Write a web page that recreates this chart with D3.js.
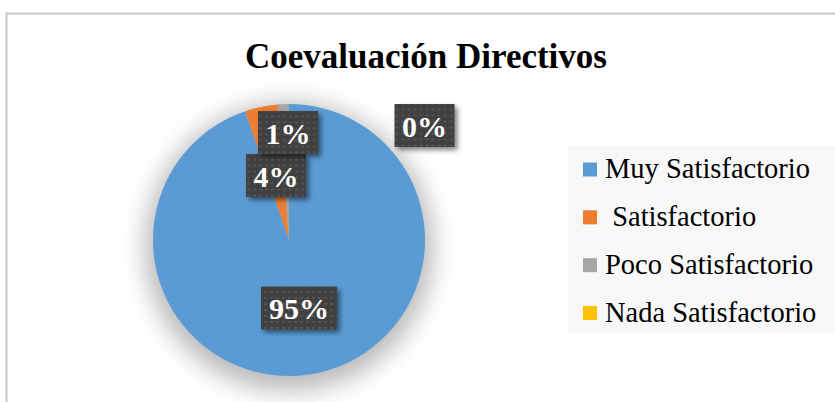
<!DOCTYPE html>
<html><head><meta charset="utf-8">
<script src="https://cdn.jsdelivr.net/npm/d3@7"></script>
<style>body{margin:0;background:#fff}svg{display:block}</style>
</head><body>
<script>
const title = "Coevaluación Directivos";
const categories = ["Muy Satisfactorio", " Satisfactorio", "Poco Satisfactorio", "Nada Satisfactorio"];
const values = [94.8, 3.9, 1.3, 0];
const colors = ["#5B9BD5", "#ED7D31", "#A5A5A5", "#FFC000"];
// label box centers (placement of data labels)
const labelPos = [[299, 308], [276, 175.5], [288, 132.5], [424.5, 125.5]];

const W = 835, H = 402;
const FONT = "'Liberation Serif', 'Times New Roman', Times, serif";
const svg = d3.select("body").append("svg").attr("width", W).attr("height", H);
const defs = svg.append("defs");

const f1 = defs.append("filter").attr("id","blurGlow").attr("x","-50%").attr("y","-50%").attr("width","200%").attr("height","200%");
f1.append("feGaussianBlur").attr("stdDeviation",12);

const f2 = defs.append("filter").attr("id","boxShadow").attr("x","-30%").attr("y","-30%").attr("width","160%").attr("height","160%");
f2.append("feGaussianBlur").attr("in","SourceAlpha").attr("stdDeviation",2.5).attr("result","b");
f2.append("feOffset").attr("in","b").attr("dx",3).attr("dy",3).attr("result","o");
f2.append("feComponentTransfer").attr("in","o").attr("result","s").append("feFuncA").attr("type","linear").attr("slope",0.5);
const m2 = f2.append("feMerge"); m2.append("feMergeNode").attr("in","s"); m2.append("feMergeNode").attr("in","SourceGraphic");

const pat = defs.append("pattern").attr("id","dots").attr("width",6).attr("height",6).attr("patternUnits","userSpaceOnUse");
pat.append("rect").attr("width",6).attr("height",6).attr("fill","#404040");
pat.append("rect").attr("x",1).attr("y",1).attr("width",3).attr("height",2).attr("fill","#525252");

// chart frame
svg.append("path").attr("d", `M6.5,${H} V13.5 H${W}`).attr("fill","none").attr("stroke","#c6c6c6").attr("stroke-width",2);

svg.append("text").attr("x", 426).attr("y", 68).attr("text-anchor","middle")
  .attr("font-family",FONT).attr("font-weight","bold")
  .attr("font-size", 35).attr("fill","#000").text(title);

const cx = 289, cy = 240, r = 136;
// soft halo behind the pie
svg.append("circle").attr("cx", cx).attr("cy", cy + 7).attr("r", r + 8)
  .attr("fill", "#a8a8a8").attr("opacity", 0.8).attr("filter", "url(#blurGlow)");

const pie = d3.pie().sort(null).value(d => d)(values);
const arc = d3.arc().innerRadius(0).outerRadius(r);
const g = svg.append("g").attr("transform", `translate(${cx},${cy})`);
g.selectAll("path").data(pie).join("path").attr("d", arc).attr("fill", (d,i) => colors[i]);

// legend
const lg = svg.append("g");
lg.append("rect").attr("x",568).attr("y",145).attr("width",W-568).attr("height",188).attr("fill","#f8f8f8");
const rowY = d3.scalePoint().domain(categories).range([169.5, 313]);
categories.forEach((c,i) => {
  lg.append("rect").attr("x",583).attr("y",rowY(c)-7).attr("width",14).attr("height",14).attr("fill",colors[i]);
  lg.append("text").attr("x",605).attr("y",rowY(c)+8.5)
    .attr("font-family",FONT).attr("font-size",28.5)
    .attr("fill","#000").attr("xml:space","preserve").style("white-space","pre").text(c);
});

// data labels
const fmt = v => Math.round(v) + "%";
const labels = svg.append("g");
values.forEach((v,i) => {
  const [x,y] = labelPos[i];
  const txt = fmt(v);
  const w = txt.length === 3 ? 76 : 60, h = 43;
  const lgp = labels.append("g").attr("transform",`translate(${x},${y})`);
  lgp.append("rect").attr("x",-w/2).attr("y",-h/2).attr("width",w).attr("height",h).attr("fill","url(#dots)").attr("filter","url(#boxShadow)");
  lgp.append("text").attr("text-anchor","middle").attr("y",11)
    .attr("font-family",FONT).attr("font-weight","bold")
    .attr("font-size",30).attr("fill","#fff").text(txt);
});
</script>
</body></html>
